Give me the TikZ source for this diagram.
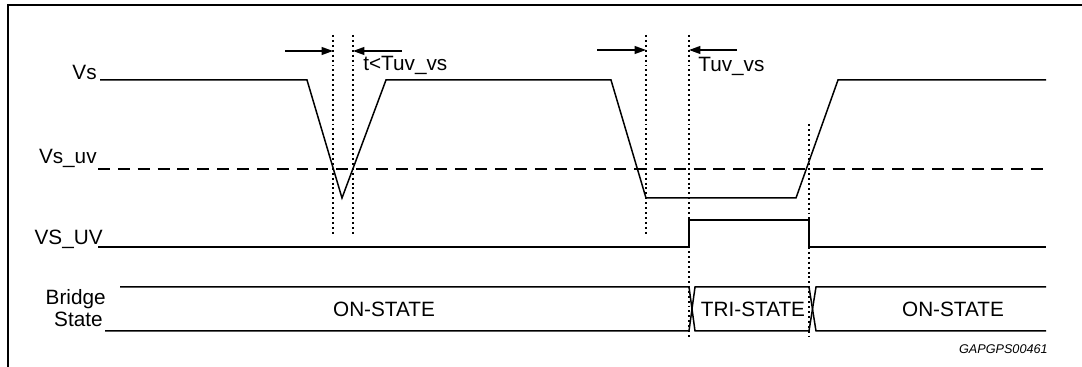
\documentclass[tikz,border=0pt]{standalone}
\usepackage{fontspec}
\setmainfont{Liberation Sans}
\usetikzlibrary{arrows.meta}
\tikzset{
	sig/.style={line width=0.85pt},
	markline/.style={line width=0.75pt, dash pattern=on 1.1pt off 1.7pt},
	uvlevel/.style={line width=0.85pt, dash pattern=on 6.8pt off 4.5pt},
	lbl/.style={font=\fontsize{11.8}{12.5}\selectfont, inner sep=0pt},
	tarrow/.style={line width=0.85pt, -{Triangle[length=6.5pt,width=4.5pt]}},
}

\begin{document}
\begin{tikzpicture}[x=0.02cm, y=-0.02cm]
			%%%%% START %%%%%
			\useasboundingbox (0,0) rectangle (1082,367);
			
			\draw[line width=1.1pt] (8,367) -- (8,5) -- (1082,5);
			
			% signal names
			\node[lbl, anchor=base east] (vsname) at (97,80) {Vs};
			\node[lbl, anchor=base east] (uvname) at (97,164) {Vs\_uv};
			\node[lbl, anchor=base east] (flagname) at (103,245) {VS\_UV};
			\node[lbl, anchor=base east] (bridgename) at (106,305) {Bridge};
			\node[lbl, anchor=base east] (statename) at (103,327) {State};
			
			% supply voltage
			\draw[sig] (100,80) -- (307,80) -- (342,198) -- (386,80) -- (611,80) -- (646,198) -- (796,198) -- (838,80) -- (1046,80);
			\draw[uvlevel] (98,169) -- (1046,169);
			
			% undervoltage flag
			\draw[sig] (98,247) -- (689,247) -- (689,220) -- (809,220) -- (809,247) -- (1046,247);
			
			% bridge state bus
			\draw[sig] (120,287) -- (689,287) -- (695,331) -- (809,331) -- (816,287) -- (1046,287);
			\draw[sig] (105,331) -- (689,331) -- (695,287) -- (809,287) -- (816,331) -- (1046,331);
			\node[lbl, anchor=base] (on1) at (384,317) {ON-STATE};
			\node[lbl, anchor=base] (tri) at (753,317) {TRI-STATE};
			\node[lbl, anchor=base] (on2) at (953,317) {ON-STATE};
			
			% marker lines
			\coordinate (m1t) at (333,35);  \coordinate (m1b) at (333,236);
			\coordinate (m2t) at (353,35);  \coordinate (m2b) at (353,236);
			\coordinate (m3t) at (646,35);  \coordinate (m3b) at (646,236);
			\coordinate (m4t) at (689,35);  \coordinate (m4b) at (689,337);
			\coordinate (m5t) at (809,124); \coordinate (m5b) at (809,337);
			\foreach \m in {1,...,5}
				\draw[markline] (m\m t) -- (m\m b);
			
			% glitch shorter than the filter time
			\coordinate (a1s) at (285,51); \coordinate (a1e) at (333,51);
			\coordinate (a2s) at (402,51); \coordinate (a2e) at (353,51);
			\draw[tarrow] (a1s) -- (a1e);
			\draw[tarrow] (a2s) -- (a2e);
			\node[lbl, anchor=base west] (glitch) at (363,71) {t<Tuv\_vs};
			
			% filter time
			\coordinate (a3s) at (597,50); \coordinate (a3e) at (646,50);
			\coordinate (a4s) at (737,50); \coordinate (a4e) at (689,50);
			\draw[tarrow] (a3s) -- (a3e);
			\draw[tarrow] (a4s) -- (a4e);
			\node[lbl, anchor=base west] (filter) at (698,72) {Tuv\_vs};
			
			\node[inner sep=0pt, anchor=base east, font=\fontsize{7.2}{8}\selectfont\itshape] (figid) at (1048,354) {GAPGPS00461};
			%%%%% END %%%%%
\end{tikzpicture}
\end{document}
